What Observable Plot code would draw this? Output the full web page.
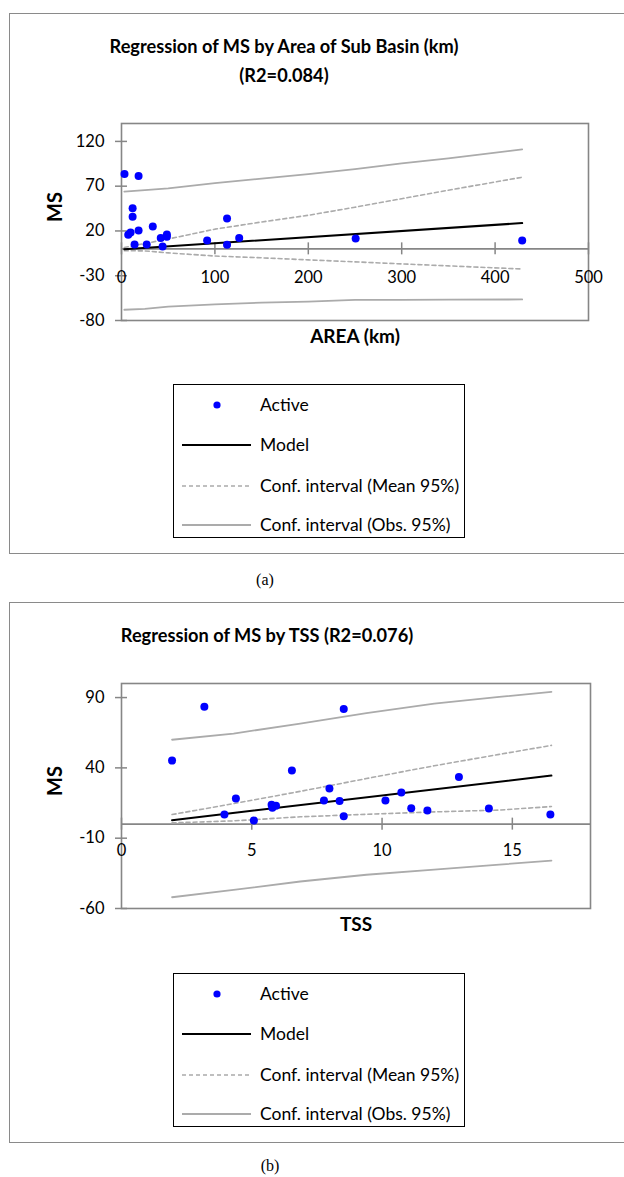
<!DOCTYPE html>
<html>
<head>
<meta charset="utf-8">
<script src="https://cdn.jsdelivr.net/npm/d3@7"></script>
<script src="https://cdn.jsdelivr.net/npm/@observablehq/plot@0.6"></script>
<style>
  body { margin: 0; width: 624px; height: 1177px; overflow: hidden; position: relative; background: #fff; font-family: Lato, "Open Sans", sans-serif; color: #000; }
  .frame { position: absolute; border: 1.5px solid #8a8a8a; box-sizing: border-box; }
  .title { position: absolute; font-weight: bold; font-size: 18.2px; text-align: center; transform: translate(-50%, -50%); white-space: nowrap; line-height: 29px; }
  .caption { position: absolute; font-family: "Liberation Serif", serif; font-size: 16px; transform: translate(-50%, -50%); }
  .plot { position: absolute; left: 0; }
  .legend { position: absolute; border: 1.5px solid #000; box-sizing: border-box; background: #fff; }
</style>
</head>
<body>
<div class="frame" style="left:9px;top:13px;width:640px;height:541px"></div>
<div class="title" style="left:284px;top:61px">Regression of MS by Area of Sub Basin (km)<br>(R2=0.084)</div>
<div class="plot" id="plotA" style="top:100px"></div>
<div class="legend" id="legA" style="left:173px;top:384px;width:292px;height:154px"></div>
<div class="caption" style="left:265px;top:580px">(a)</div>

<div class="frame" style="left:9px;top:602px;width:640px;height:541px"></div>
<div class="title" style="left:267px;top:635px">Regression of MS by TSS (R2=0.076)</div>
<div class="plot" id="plotB" style="top:660px"></div>
<div class="legend" id="legB" style="left:173px;top:973px;width:292px;height:154px"></div>
<div class="caption" style="left:270px;top:1166px">(b)</div>

<script>
// ---------- Chart (a): MS vs Area of Sub Basin ----------
const areaX  = [3.2, 18.3, 11.9, 11.9, 7.2, 9.7, 18.3, 33.5, 14, 27, 42, 44, 48.6, 48.6, 91.7, 113, 113, 126, 250.7, 429];
const areaMS = [83.5, 81.3, 45.3, 36, 15.7, 18.4, 20.6, 25.1, 4.9, 4.9, 12, 2.6, 16.1, 13.5, 9.4, 34, 4.5, 12, 11.6, 9.4];
const areaModelX = [3, 429];
const areaModelY = [-0.3, 28.8];
const areaGridX    = [3, 25, 50, 100, 150, 200, 250, 300, 350, 429];
const areaMeanUp   = [1.5, 6, 11, 22, 30, 37.5, 46.5, 56, 65.5, 80];
const areaMeanLo   = [-2, -2.3, -4.5, -8, -10, -12.3, -14.5, -16.8, -19, -22.5];
const areaObsUp    = [64, 65.5, 67.5, 73.5, 78.5, 83.5, 89, 95.5, 101, 111];
const areaObsLo    = [-68, -67, -64.5, -62, -60, -59, -57, -57, -56.7, -56.5];
const areaXTicks = [0, 100, 200, 300, 400, 500];
const areaYTicks = [-80, -30, 20, 70, 120];

// ---------- Chart (b): MS vs TSS ----------
const tssX  = [1.94, 3.18, 8.53, 6.54, 12.95, 4.39, 3.95, 5.08, 5.76, 5.79, 5.93, 7.98, 7.77, 8.37, 8.53, 10.13, 10.74, 11.12, 11.74, 14.1, 16.46];
const tssMS = [45.2, 83.4, 81.9, 38.1, 33.6, 18.2, 6.8, 2.5, 13.7, 11.6, 13.0, 25.3, 16.8, 16.5, 5.6, 16.8, 22.5, 11.3, 9.7, 11.1, 6.8];
const tssModelX = [1.94, 16.5];
const tssModelY = [2.8, 34.5];
const tssGridX  = [1.94, 4.3, 6.86, 9.4, 12, 14.5, 16.5];
const tssMeanUp = [6.8, 14.6, 23.3, 32.4, 41.5, 49.6, 56];
const tssMeanLo = [0.9, 2.3, 5.2, 7, 8.7, 10, 12.5];
const tssObsUp  = [60, 64.4, 71.5, 79, 85.7, 90.5, 94];
const tssObsLo  = [-52, -46.8, -40.8, -36, -32.4, -28.8, -26];
const tssXTicks = [0, 5, 10, 15];
const tssYTicks = [-60, -10, 40, 90];

const AXIS = "#868686";
const CI = "#ababab";
const FONT = "Lato, 'Open Sans', sans-serif";

function regChart(o) {
  const pts = o.X.map((x, i) => ({x, y: o.Y[i]}));
  const model = o.mX.map((x, i) => ({x, y: o.mY[i]}));
  const grid = (arr) => o.gX.map((x, i) => ({x, y: arr[i]}));
  return Plot.plot({
    width: 624, height: o.height,
    marginLeft: 121, marginRight: o.marginRight, marginTop: 23, marginBottom: o.marginBottom,
    style: {fontFamily: FONT, fontSize: "16px", background: "transparent", overflow: "visible"},
    x: {domain: o.xDomain, axis: null},
    y: {domain: o.yDomain, axis: null},
    marks: [
      Plot.frame({stroke: AXIS, strokeWidth: 1.6}),
      Plot.ruleY([0], {stroke: AXIS, strokeWidth: 1.6}),
      Plot.ruleY(o.yTicks, {x1: 0, x2: 0, insetLeft: -6, insetRight: -6, stroke: AXIS, strokeWidth: 1.5}),
      Plot.ruleX(o.xTicks, {y1: 0, y2: 0, insetTop: -6, insetBottom: -6, stroke: AXIS, strokeWidth: 1.5}),
      Plot.text(o.yTicks, {x: 0, y: d => d, text: d => String(d), textAnchor: "end", dx: -17, fontSize: 16.5}),
      Plot.text(o.xTicks, {x: d => d, y: 0, text: d => String(d), dy: o.tickDy, fontSize: 16.5}),
      Plot.text([o.xLabel], {frameAnchor: "bottom", text: d => d, dy: 22, fontWeight: "bold", fontSize: 19}),
      Plot.text(["MS"], {frameAnchor: "left", text: d => d, rotate: -90, dx: -66, fontWeight: "bold", fontSize: 20}),
      Plot.line(grid(o.oUp), {x: "x", y: "y", stroke: CI, strokeWidth: 1.8}),
      Plot.line(grid(o.oLo), {x: "x", y: "y", stroke: CI, strokeWidth: 1.8}),
      Plot.line(grid(o.mUp), {x: "x", y: "y", stroke: CI, strokeWidth: 1.6, strokeDasharray: "4,3"}),
      Plot.line(grid(o.mLo), {x: "x", y: "y", stroke: CI, strokeWidth: 1.6, strokeDasharray: "4,3"}),
      Plot.line(model, {x: "x", y: "y", stroke: "#000", strokeWidth: 2}),
      Plot.dot(pts, {x: "x", y: "y", r: 4, fill: "#0000ff", stroke: "none"})
    ]
  });
}

document.getElementById("plotA").append(regChart({
  X: areaX, Y: areaMS, mX: areaModelX, mY: areaModelY,
  gX: areaGridX, mUp: areaMeanUp, mLo: areaMeanLo, oUp: areaObsUp, oLo: areaObsLo,
  xTicks: areaXTicks, yTicks: areaYTicks, xDomain: [0, 500], yDomain: [-80, 140],
  xLabel: "AREA (km)", tickDy: 29, height: 270, marginRight: 36, marginBottom: 50
}));

document.getElementById("plotB").append(regChart({
  X: tssX, Y: tssMS, mX: tssModelX, mY: tssModelY,
  gX: tssGridX, mUp: tssMeanUp, mLo: tssMeanLo, oUp: tssObsUp, oLo: tssObsLo,
  xTicks: tssXTicks, yTicks: tssYTicks, xDomain: [0, 18], yDomain: [-60, 100],
  xLabel: "TSS", tickDy: 27, height: 290, marginRight: 34, marginBottom: 42
}));

// ---------- Legends ----------
const legendItems = ["Active", "Model", "Conf. interval (Mean 95%)", "Conf. interval (Obs. 95%)"];
function legend(el) {
  const svg = d3.select(el).append("svg").attr("width", 292).attr("height", 154)
    .style("position", "absolute").style("left", "-1.5px").style("top", "-1.5px").style("overflow", "visible");
  const rows = [21, 61, 102, 141];
  svg.append("circle").attr("cx", 44).attr("cy", rows[0]).attr("r", 3.6).attr("fill", "#0000ff");
  svg.append("line").attr("x1", 9).attr("x2", 78).attr("y1", rows[1]).attr("y2", rows[1]).attr("stroke", "#000").attr("stroke-width", 2);
  svg.append("line").attr("x1", 9).attr("x2", 78).attr("y1", rows[2]).attr("y2", rows[2]).attr("stroke", CI).attr("stroke-width", 1.6).attr("stroke-dasharray", "4,3");
  svg.append("line").attr("x1", 9).attr("x2", 78).attr("y1", rows[3]).attr("y2", rows[3]).attr("stroke", CI).attr("stroke-width", 1.8);
  legendItems.forEach((t, i) => {
    svg.append("text").attr("x", 87).attr("y", rows[i]).attr("dy", "0.35em")
      .style("font-family", FONT).style("font-size", "17.5px").text(t);
  });
}
legend(document.getElementById("legA"));
legend(document.getElementById("legB"));
</script>
</body>
</html>
